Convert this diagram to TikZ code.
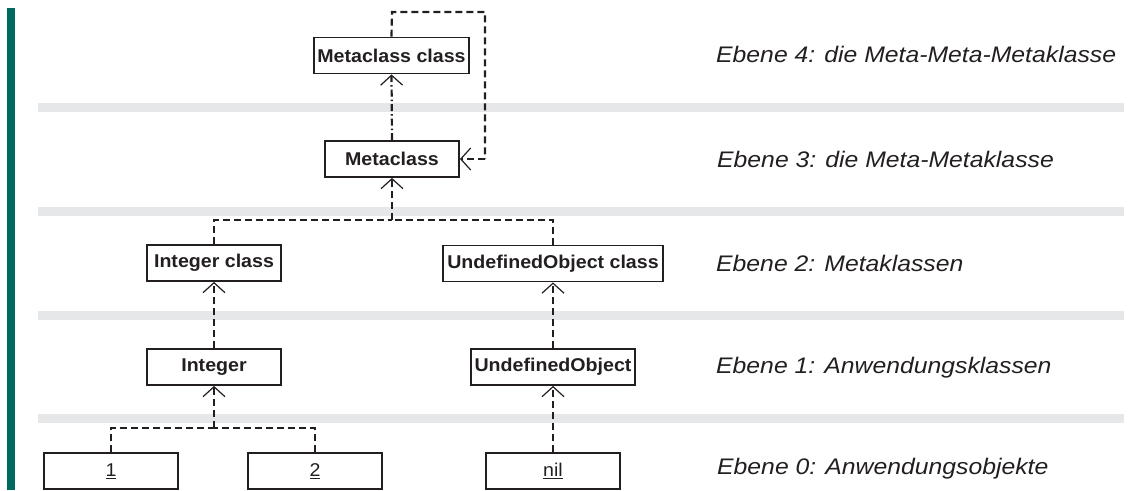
\documentclass[tikz,border=0pt]{standalone}
\usepackage{fontspec}
\setmainfont{Liberation Sans}
\newfontfamily\boxfont[FakeStretch=1.06]{Liberation Sans}
\newfontfamily\labfont[FakeStretch=1.1]{Liberation Sans}
\usetikzlibrary{arrows.meta}
\definecolor{ink}{RGB}{35,31,32}
\definecolor{band}{RGB}{230,231,232}
\definecolor{teal}{RGB}{0,105,95}
\tikzset{
  cls/.style={draw=ink, line width=1.8pt, fill=white, minimum width=134pt, minimum height=36pt,
    inner xsep=1pt, inner ysep=0pt, text=ink, font=\boxfont\bfseries\fontsize{18.5}{22}\selectfont},
  obj/.style={cls, font=\boxfont\fontsize{18.5}{22}\selectfont},
  dep/.style={draw=ink, line width=2.2pt, dash pattern=on 7pt off 4pt},
  deptip/.style={dep, -{Straight Barb[length=10pt,width=22pt,line width=1.2pt]}},
  lvl/.style={anchor=base west, text=ink, inner sep=0pt, font=\labfont\itshape\fontsize{22.5}{27}\selectfont},
  bandbar/.style={fill=band, draw=none}
}
\begin{document}
\begin{tikzpicture}[x=1pt,y=-1pt]
\useasboundingbox (0,0) rectangle (1137,490);
% left green bar
\fill[teal] (7,8) rectangle (15,490);
% grey level separators
\foreach \yy in {103,207,311,414}{\fill[band] (38,\yy) rectangle (1124,\yy+9);}
% class boxes
\node[cls, minimum width=155pt] (mcc) at (391.5,55.5) {Metaclass class};
\node[cls] (mc) at (392,159) {Metaclass};
\node[cls] (icl) at (214,263) {Integer class};
\node[cls, minimum width=220pt] (ucl) at (553,263.5) {UndefinedObject class};
\node[cls] (int) at (214,367) {Integer};
\node[cls, minimum width=164pt] (uo) at (553,367) {UndefinedObject};
\node[obj] (one) at (111,471) {\underline{1}};
\node[obj] (two) at (315,471) {\underline{2}};
\node[obj] (nil) at (553,471) {\underline{nil}};
% junctions / corners
\coordinate (lt) at (392,12);
\coordinate (rt) at (485,12);
\coordinate (rb) at (485,159);
\coordinate (j1) at (392,220);
\coordinate (j2) at (214,428);
% connectors
\draw[dep] (mcc.north) -- (lt) -- (rt) -- (rb);
\draw[deptip] (rb) -- (mc.east);
\draw[deptip, dash pattern=on 7pt off 3pt on 1.5pt off 3pt] (mc.north) -- (mcc.south);
\draw[dep] (icl.north) |- (j1);
\draw[dep] (ucl.north) |- (j1);
\draw[deptip] (j1) -- (mc.south);
\draw[deptip] (int.north) -- (icl.south);
\draw[deptip] (uo.north) -- (ucl.south);
\draw[dep] (one.north) |- (j2);
\draw[dep] (two.north) |- (j2);
\draw[deptip] (j2) -- (int.south);
\draw[deptip] (nil.north) -- (uo.south);
% level labels
\node[lvl] (l4) at (716,62) {Ebene 4: die Meta-Meta-Metaklasse};
\node[lvl] (l3) at (717,167) {Ebene 3: die Meta-Metaklasse};
\node[lvl] (l2) at (716,271) {Ebene 2: Metaklassen};
\node[lvl] (l1) at (716,373) {Ebene 1: Anwendungsklassen};
\node[lvl] (l0) at (717,474) {Ebene 0: Anwendungsobjekte};
\end{tikzpicture}
\end{document}
